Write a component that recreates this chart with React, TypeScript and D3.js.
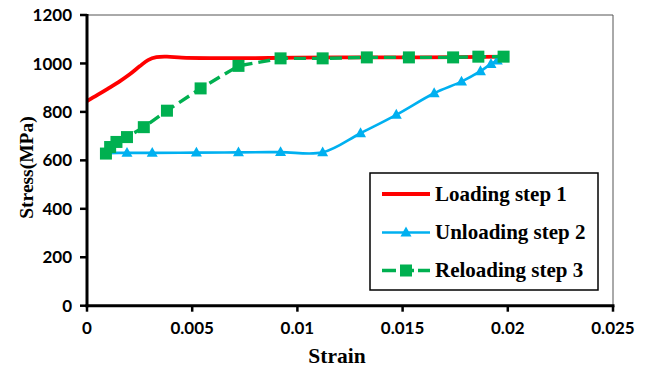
import React from "react";
import * as d3 from "d3";

// Stress–strain data for the three loading steps
const loadingStrain = [0, 0.0005, 0.001, 0.0015, 0.002, 0.0025, 0.0029, 0.0033, 0.0038, 0.0045, 0.006, 0.008, 0.01, 0.013, 0.016, 0.02];
const loadingStress = [845, 870, 896, 923, 953, 988, 1014, 1026, 1028, 1024, 1022, 1022, 1024, 1025, 1025, 1028];

const unloadingStrain = [0.0198, 0.0195, 0.0192, 0.0187, 0.0178, 0.0165, 0.0147, 0.013, 0.0112, 0.0092, 0.0072, 0.0052, 0.0031, 0.0019, 0.0009];
const unloadingStress = [1026, 1012, 998, 968, 925, 877, 788, 712, 633, 634, 633, 632, 631, 631, 630];

const reloadingStrain = [0.0009, 0.0011, 0.0014, 0.0019, 0.0027, 0.0038, 0.0054, 0.0072, 0.0092, 0.0112, 0.0133, 0.0153, 0.0174, 0.0186, 0.0198];
const reloadingStress = [628, 655, 676, 696, 737, 805, 897, 990, 1021, 1021, 1025, 1025, 1025, 1028, 1028];

const xTicks = [0, 0.005, 0.01, 0.015, 0.02, 0.025];
const xTickLabels = ["0", "0.005", "0.01", "0.015", "0.02", "0.025"];
const yTicks = [0, 200, 400, 600, 800, 1000, 1200];

const legendLabels = ["Loading step 1", "Unloading step 2", "Reloading step 3"];

const RED = "#FF0000";
const BLUE = "#00B0F0";
const GREEN = "#00B050";

const W = 649;
const H = 371;
const left = 87;
const right = 613;
const top = 15;
const bottom = 305.7;

type Pt = [number, number];
const zip = (xs: number[], ys: number[]): Pt[] => xs.map((x, i) => [x, ys[i]]);

export default function App() {
  const x = d3.scaleLinear().domain([0, 0.025]).range([left, right]);
  const y = d3.scaleLinear().domain([0, 1200]).range([bottom, top]);

  const loading = zip(loadingStrain, loadingStress);
  const unloading = zip(unloadingStrain, unloadingStress);
  const reloading = zip(reloadingStrain, reloadingStress);

  const smooth = d3
    .line<Pt>()
    .x((d) => x(d[0]))
    .y((d) => y(d[1]))
    .curve(d3.curveCatmullRom.alpha(0.5));
  const straight = d3
    .line<Pt>()
    .x((d) => x(d[0]))
    .y((d) => y(d[1]));

  const tri = (cx: number, cy: number, s = 11) => {
    const h = s * 0.9;
    return `M${cx},${cy - h * 0.6}L${cx + s / 2},${cy + h * 0.4}L${cx - s / 2},${cy + h * 0.4}Z`;
  };
  const sq = 12;

  const tickFont = "Lato, 'Open Sans', sans-serif";
  const titleFont = "'Liberation Serif', 'Times New Roman', serif";

  // legend layout
  const lgX = 370;
  const lgY = 173;
  const lgW = 228;
  const lgH = 117;
  const rowY = [194, 232.5, 270.5];
  const lnX0 = 382;
  const lnX1 = 430;
  const lnMid = (lnX0 + lnX1) / 2;

  return (
    <svg
      width={W}
      height={H}
      style={{ position: "absolute", left: 0, top: 0, background: "#fff" }}
    >
      <rect x={0} y={0} width={W} height={H} fill="#fff" />

      {/* plot frame */}
      <line x1={left} y1={top} x2={right} y2={top} stroke="#555" strokeWidth={1} />
      <line x1={right} y1={top} x2={right} y2={bottom} stroke="#555" strokeWidth={1} />

      {/* series */}
      <path d={smooth(loading) || ""} fill="none" stroke={RED} strokeWidth={3.8} strokeLinejoin="round" />

      <path d={smooth(unloading) || ""} fill="none" stroke={BLUE} strokeWidth={2.6} strokeLinejoin="round" />
      {unloading.map((d, i) => (
        <path key={"t" + i} d={tri(x(d[0]), y(d[1]))} fill={BLUE} />
      ))}

      <path
        d={straight(reloading) || ""}
        fill="none"
        stroke={GREEN}
        strokeWidth={3.4}
        strokeDasharray="12 6"
      />
      {reloading.map((d, i) => (
        <rect key={"s" + i} x={x(d[0]) - sq / 2} y={y(d[1]) - sq / 2} width={sq} height={sq} fill={GREEN} />
      ))}

      {/* axes */}
      <line x1={left} y1={top - 1} x2={left} y2={bottom + 1.5} stroke="#000" strokeWidth={3} />
      <line x1={left - 1.5} y1={bottom} x2={right + 1.5} y2={bottom} stroke="#000" strokeWidth={3} />
      {yTicks.map((t) => (
        <g key={"y" + t}>
          <line x1={left - 7} x2={left} y1={y(t)} y2={y(t)} stroke="#000" strokeWidth={2.5} />
          <text
            x={72}
            y={y(t)}
            dy="0.36em"
            textAnchor="end"
            fontFamily={tickFont}
            fontWeight="bold"
            fontSize={17}
            fill="#000"
          >
            {t}
          </text>
        </g>
      ))}
      {xTicks.map((t, i) => (
        <g key={"x" + t}>
          <line x1={x(t)} x2={x(t)} y1={bottom} y2={bottom + 6} stroke="#000" strokeWidth={2.5} />
          <text
            x={x(t)}
            y={334}
            textAnchor="middle"
            fontFamily={tickFont}
            fontWeight="bold"
            fontSize={17}
            fill="#000"
          >
            {xTickLabels[i]}
          </text>
        </g>
      ))}

      {/* axis titles */}
      <text
        x={337}
        y={363}
        textAnchor="middle"
        fontFamily={titleFont}
        fontWeight="bold"
        fontSize={21.5}
        fill="#000"
      >
        Strain
      </text>
      <text
        transform={`translate(33,167.5) rotate(-90)`}
        textAnchor="middle"
        fontFamily={titleFont}
        fontWeight="bold"
        fontSize={19.5}
        fill="#000"
      >
        Stress(MPa)
      </text>

      {/* legend */}
      <rect x={lgX} y={lgY} width={lgW} height={lgH} fill="#fff" stroke="#000" strokeWidth={1.5} />
      <line x1={lnX0} x2={lnX1} y1={rowY[0]} y2={rowY[0]} stroke={RED} strokeWidth={3.8} />
      <line x1={lnX0} x2={lnX1} y1={rowY[1]} y2={rowY[1]} stroke={BLUE} strokeWidth={2.6} />
      <path d={tri(lnMid, rowY[1])} fill={BLUE} />
      <line x1={lnX0} x2={lnX1} y1={rowY[2]} y2={rowY[2]} stroke={GREEN} strokeWidth={3.4} strokeDasharray="14 4" />
      <rect x={lnMid - sq / 2} y={rowY[2] - sq / 2} width={sq} height={sq} fill={GREEN} />
      {legendLabels.map((l, i) => (
        <text
          key={l}
          x={435}
          y={rowY[i]}
          dy="0.33em"
          fontFamily={titleFont}
          fontWeight="bold"
          fontSize={21}
          fill="#000"
        >
          {l}
        </text>
      ))}
    </svg>
  );
}
